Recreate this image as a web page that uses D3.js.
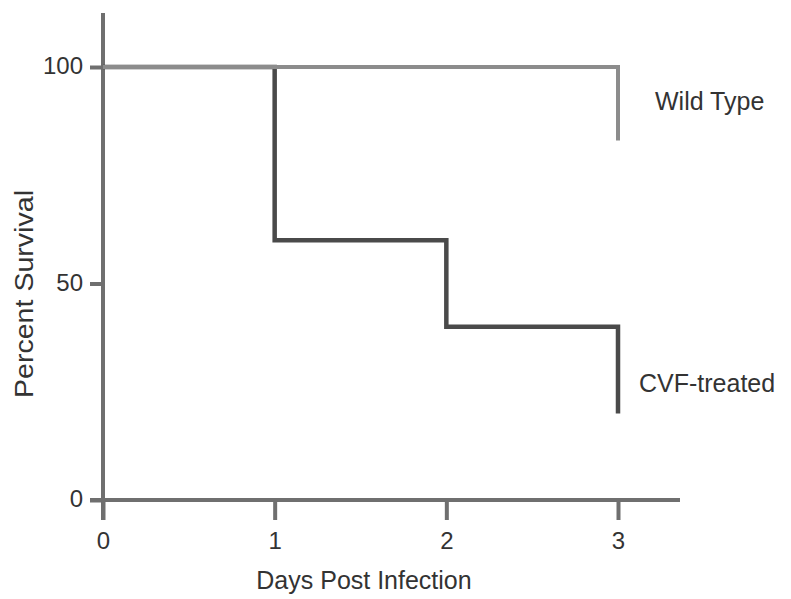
<!DOCTYPE html>
<html>
<head>
<meta charset="utf-8">
<script src="https://cdn.jsdelivr.net/npm/d3@7"></script>
<style>
body{margin:0;background:#fff;}
text{font-family:"Liberation Sans",Arial,sans-serif;fill:#333;}
</style>
</head>
<body>
<svg class="chart" width="791" height="599"></svg>
<script>
// survival data, step curves (day, percent)
var days = [0, 1, 2, 3];
var wildType = [100, 100, 100, 83];
var cvfTreated = [100, 60, 40, 20];
var xTicks = [0, 1, 2, 3];
var yTicks = [0, 50, 100];
var seriesNames = ["Wild Type", "CVF-treated"];

var svg = d3.select(".chart");
var scaleX = d3.scaleLinear().domain([0, 3]).range([103, 618]);
var scaleY = d3.scaleLinear().domain([0, 100]).range([500, 67]);

var axisCol = "#6f6f6f";

// axes lines
svg.append("line")
	.attr("x1", scaleX(0)).attr("x2", scaleX(0))
	.attr("y1", 13).attr("y2", scaleY(0) + 20)
	.attr("stroke", axisCol).attr("stroke-width", 4);
svg.append("line")
	.attr("x1", scaleX(0) - 13).attr("x2", 680)
	.attr("y1", scaleY(0)).attr("y2", scaleY(0))
	.attr("stroke", axisCol).attr("stroke-width", 4);

// y ticks
var yAxis = d3.axisLeft(scaleY).tickValues(yTicks).tickFormat(d3.format("d")).tickSize(13).tickPadding(7).tickSizeOuter(0);
var gy = svg.append("g").attr("transform", "translate(" + scaleX(0) + ",0)").call(yAxis);
gy.select(".domain").remove();
gy.selectAll(".tick line").attr("stroke", axisCol).attr("stroke-width", 4);
gy.selectAll(".tick text")
	.attr("font-size", 24).attr("fill", "#333")
	.attr("dy", "0.28em")
	.style("font-family", "'Liberation Sans',Arial,sans-serif");

// x ticks
var xAxis = d3.axisBottom(scaleX).tickValues(xTicks).tickFormat(d3.format("d")).tickSize(20).tickPadding(12).tickSizeOuter(0);
var gx = svg.append("g").attr("transform", "translate(0," + scaleY(0) + ")").call(xAxis);
gx.select(".domain").remove();
gx.selectAll(".tick line").attr("stroke", axisCol).attr("stroke-width", 4);
gx.selectAll(".tick text")
	.attr("font-size", 24).attr("fill", "#333")
	.style("font-family", "'Liberation Sans',Arial,sans-serif");

// step lines
var line = d3.line()
	.x(function(d){ return scaleX(d.day); })
	.y(function(d){ return scaleY(d.val); })
	.curve(d3.curveStepAfter);

function toPts(vals){
	return days.map(function(d, i){ return {day: d, val: vals[i]}; });
}

// CVF first so wild type sits on top along 100%
svg.append("path")
	.datum(toPts(cvfTreated))
	.attr("d", line)
	.attr("fill", "none")
	.attr("stroke", "#4a4a4a")
	.attr("stroke-width", 4.5);

svg.append("path")
	.datum(toPts(wildType))
	.attr("d", line)
	.attr("fill", "none")
	.attr("stroke", "#8c8c8c")
	.attr("stroke-width", 4);

// series labels
svg.append("text").attr("x", 655).attr("y", 110).attr("font-size", 25).text(seriesNames[0]);
svg.append("text").attr("x", 639).attr("y", 392).attr("font-size", 25).text(seriesNames[1]);

// axis titles
svg.append("text")
	.attr("x", 364).attr("y", 589)
	.attr("text-anchor", "middle")
	.attr("font-size", 25)
	.text("Days Post Infection");
svg.append("text")
	.attr("transform", "translate(33,294) rotate(-90)")
	.attr("text-anchor", "middle")
	.attr("font-size", 25)
	.attr("textLength", 208)
	.attr("lengthAdjust", "spacingAndGlyphs")
	.text("Percent Survival");
</script>
</body>
</html>
